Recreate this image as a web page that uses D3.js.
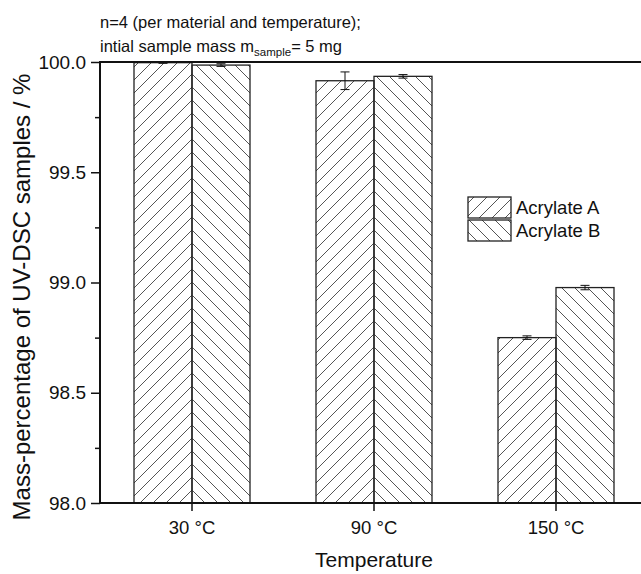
<!DOCTYPE html>
<html>
<head>
<meta charset="utf-8">
<script src="https://cdn.jsdelivr.net/npm/d3@7"></script>
<style>
  body { margin: 0; background: #fff; }
  text { font-family: "Liberation Sans", Arial, sans-serif; fill: #111; }
</style>
</head>
<body>
<script>
// values
var temps = ["30 °C", "90 °C", "150 °C"];
var series = ["Acrylate A", "Acrylate B"];
var acrylateA = [99.997, 99.915, 98.750];
var acrylateB = [99.986, 99.935, 98.977];
var errA = [0.003, 0.040, 0.008];
var errB = [0.006, 0.008, 0.010];
var yTicks = [98.0, 98.5, 99.0, 99.5, 100.0];
var yMinor = [98.25, 98.75, 99.25, 99.75];

var width = 641, height = 574;
var margin = {left: 100, top: 62, bottom: 71};

var svg = d3.select("body")
            .append("svg")
            .attr("width", width)
            .attr("height", height);

// group centres at 192, 374, 556
var x = d3.scaleBand()
          .domain(temps)
          .range([margin.left + 1, margin.left + 547]);

var groupW = 116;
var sub = d3.scaleBand()
            .domain(series)
            .range([-groupW / 2, groupW / 2]);

var y = d3.scaleLinear()
          .domain([98, 100])
          .range([height - margin.bottom, margin.top]);

function cx(t) { return x(t) + x.bandwidth() / 2; }

// hatch patterns, aligned so the diagonals meet at group centres
var defs = svg.append("defs");
var p = 13;
var pA = defs.append("pattern")
             .attr("id", "hatchA")
             .attr("patternUnits", "userSpaceOnUse")
             .attr("x", cx(temps[0])).attr("y", y(98))
             .attr("width", p).attr("height", p);
pA.append("path")
  .attr("d", "M0," + p + "L" + p + ",0M-2,2L2,-2M" + (p - 2) + "," + (p + 2) + "L" + (p + 2) + "," + (p - 2))
  .attr("stroke", "#555").attr("stroke-width", 1);
var pB = defs.append("pattern")
             .attr("id", "hatchB")
             .attr("patternUnits", "userSpaceOnUse")
             .attr("x", cx(temps[0])).attr("y", y(98))
             .attr("width", p).attr("height", p);
pB.append("path")
  .attr("d", "M0,0L" + p + "," + p + "M-2," + (p - 2) + "L2," + (p + 2) + "M" + (p - 2) + ",-2L" + (p + 2) + ",2")
  .attr("stroke", "#555").attr("stroke-width", 1);

var fills = {"Acrylate A": "url(#hatchA)", "Acrylate B": "url(#hatchB)"};

var rows = [];
temps.forEach(function(t, i) {
    rows.push({t: t, s: "Acrylate A", v: acrylateA[i], e: errA[i]});
    rows.push({t: t, s: "Acrylate B", v: acrylateB[i], e: errB[i]});
});

svg.selectAll("rect.bar")
   .data(rows).enter()
   .append("rect")
   .attr("class", "bar")
   .attr("x", function(d) { return cx(d.t) + sub(d.s); })
   .attr("width", sub.bandwidth())
   .attr("y", function(d) { return y(d.v); })
   .attr("height", function(d) { return y(98) - y(d.v); })
   .attr("fill", function(d) { return fills[d.s]; })
   .attr("stroke", "#222")
   .attr("stroke-width", 1.3);

// error bars
var eb = svg.selectAll("g.err")
            .data(rows).enter()
            .append("g")
            .attr("class", "err")
            .attr("transform", function(d) {
                return "translate(" + (cx(d.t) + sub(d.s) + sub.bandwidth() / 2) + ",0)";
            });
eb.append("line")
  .attr("y1", function(d) { return y(d.v - d.e); })
  .attr("y2", function(d) { return y(d.v + d.e); })
  .attr("stroke", "#111");
eb.append("line")
  .attr("x1", -4.5).attr("x2", 4.5)
  .attr("y1", function(d) { return y(d.v + d.e); })
  .attr("y2", function(d) { return y(d.v + d.e); })
  .attr("stroke", "#111");
eb.append("line")
  .attr("x1", -4.5).attr("x2", 4.5)
  .attr("y1", function(d) { return y(d.v - d.e); })
  .attr("y2", function(d) { return y(d.v - d.e); })
  .attr("stroke", "#111");

// axes
var yAxis = d3.axisLeft(y)
              .tickValues(yTicks)
              .tickFormat(d3.format(".1f"))
              .tickSize(9)
              .tickPadding(4);
var gy = svg.append("g")
            .attr("transform", "translate(" + margin.left + ",0)")
            .call(yAxis);
gy.select(".domain").remove();
gy.selectAll("line").attr("stroke", "#111").attr("stroke-width", 1.5);
gy.selectAll("text").attr("font-size", 19).attr("dx", -1);

var gyMinor = svg.append("g")
                 .attr("transform", "translate(" + margin.left + ",0)")
                 .call(d3.axisLeft(y).tickValues(yMinor).tickSize(5).tickFormat(""));
gyMinor.select(".domain").remove();
gyMinor.selectAll("line").attr("stroke", "#111").attr("stroke-width", 1.5);

var xAxis = d3.axisBottom(x).tickSize(8).tickPadding(10);
var gx = svg.append("g")
            .attr("transform", "translate(0," + y(98) + ")")
            .call(xAxis);
gx.select(".domain").remove();
gx.selectAll("line").attr("stroke", "#111").attr("stroke-width", 1.5);
gx.selectAll("text").attr("font-size", 18.5);

// frame: left, bottom and top lines
svg.append("line")
   .attr("x1", margin.left).attr("x2", margin.left)
   .attr("y1", y(100)).attr("y2", y(98))
   .attr("stroke", "#111").attr("stroke-width", 2);
svg.append("line")
   .attr("x1", margin.left - 1).attr("x2", width)
   .attr("y1", y(98)).attr("y2", y(98))
   .attr("stroke", "#111").attr("stroke-width", 2);
svg.append("line")
   .attr("x1", margin.left - 1).attr("x2", width)
   .attr("y1", y(100)).attr("y2", y(100))
   .attr("stroke", "#111").attr("stroke-width", 2);

// axis titles
svg.append("text")
   .attr("x", cx(temps[1]))
   .attr("y", 567)
   .attr("text-anchor", "middle")
   .attr("font-size", 21)
   .text("Temperature");

svg.append("text")
   .attr("transform", "translate(30,297) rotate(-90)")
   .attr("text-anchor", "middle")
   .attr("font-size", 24)
   .text("Mass-percentage of UV-DSC samples / %");

// note
svg.append("text")
   .attr("x", margin.left).attr("y", 28)
   .attr("font-size", 16.5)
   .text("n=4 (per material and temperature);");
var note2 = svg.append("text")
   .attr("x", margin.left).attr("y", 52)
   .attr("font-size", 16.5);
note2.append("tspan").text("intial sample mass m");
note2.append("tspan").attr("font-size", 11.5).attr("dy", 4).text("sample");
note2.append("tspan").attr("dy", -4).text("= 5 mg");

// legend
var leg = svg.append("g").attr("transform", "translate(468,197)");
var li = leg.selectAll("g")
            .data(series).enter()
            .append("g")
            .attr("transform", function(d, i) { return "translate(0," + (i * 23) + ")"; });
li.append("rect")
  .attr("width", 43).attr("height", 21)
  .attr("fill", function(d) { return fills[d]; })
  .attr("stroke", "#222").attr("stroke-width", 1.3);
li.append("text")
  .attr("x", 48).attr("y", 17)
  .attr("font-size", 18.5)
  .text(function(d) { return d; });
</script>
</body>
</html>
